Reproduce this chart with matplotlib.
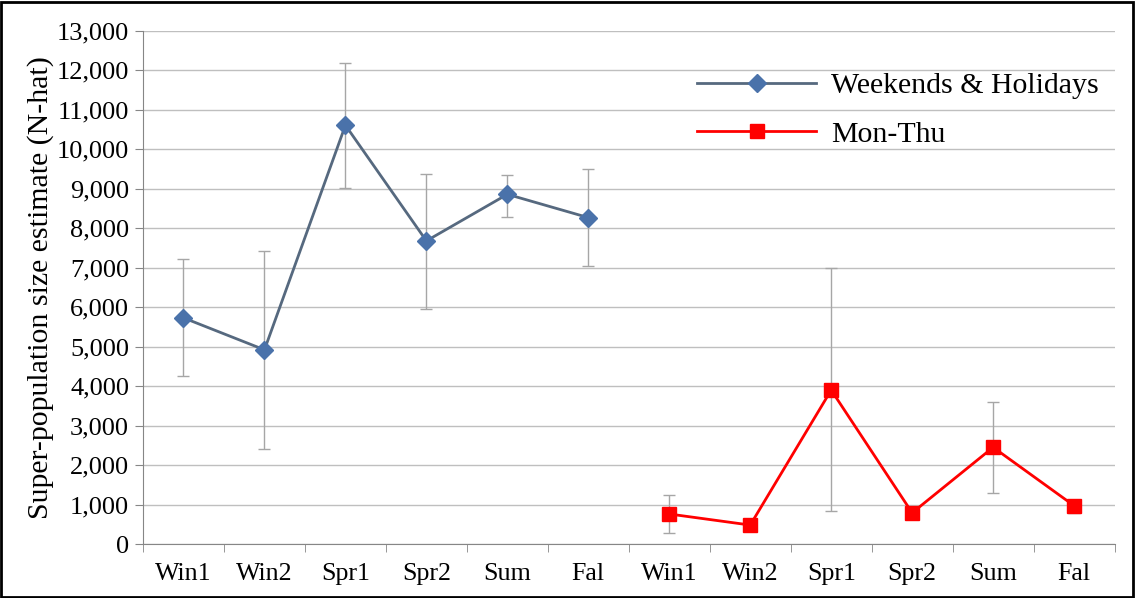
import matplotlib
matplotlib.use("Agg")
import matplotlib.pyplot as plt
import numpy as np
from matplotlib.patches import Rectangle

plt.rcParams['font.family'] = ['Liberation Serif', 'DejaVu Serif']

categories = ["Win1", "Win2", "Spr1", "Spr2", "Sum", "Fal",
              "Win1", "Win2", "Spr1", "Spr2", "Sum", "Fal"]

wh_values = [5730, 4920, 10610, 7680, 8860, 8270]
wh_upper = [7230, 7430, 12180, 9380, 9350, 9510]
wh_lower = [4260, 2400, 9010, 5950, 8280, 7050]

mt_values = [760, 480, 3900, 790, 2450, 970]
mt_upper = [1240, 480, 6990, 790, 3610, 1080]
mt_lower = [270, 480, 840, 790, 1280, 780]

yticks = list(range(0, 13001, 1000))

fig = plt.figure(figsize=(11.35, 5.98), dpi=100)
ax = fig.add_axes([0.126, 0.0903, 0.856, 0.858])

x_wh = np.arange(0, 6)
x_mt = np.arange(6, 12)

err_color = "#a6a6a6"
wh_err = [np.array(wh_values) - np.array(wh_lower), np.array(wh_upper) - np.array(wh_values)]
mt_err = [np.array(mt_values) - np.array(mt_lower), np.array(mt_upper) - np.array(mt_values)]

ax.errorbar(x_wh, wh_values, yerr=wh_err, fmt='none', ecolor=err_color,
            elinewidth=1, capsize=4.5, capthick=1, zorder=3)
ax.errorbar(x_mt, mt_values, yerr=mt_err, fmt='none', ecolor=err_color,
            elinewidth=1, capsize=4.5, capthick=1, zorder=3)

ax.plot(x_wh, wh_values, color="#56697f", lw=2, marker='D', markersize=9,
        markerfacecolor="#4a72aa", markeredgecolor="#4a72aa",
        label="Weekends & Holidays", zorder=4)
ax.plot(x_mt, mt_values, color="#ff0000", lw=2, marker='s', markersize=9.5,
        markerfacecolor="#ff0000", markeredgecolor="#ff0000",
        label="Mon-Thu", zorder=4)

ax.set_xlim(-0.5, 11.5)
ax.set_ylim(0, 13000)
ax.set_yticks(yticks)
ax.set_yticklabels([f"{v:,}" for v in yticks])
ax.set_xticks(np.arange(12))
ax.set_xticklabels(categories)
ax.set_xticks(np.arange(-0.5, 12, 1), minor=True)
ax.tick_params(axis='x', which='major', length=0, labelsize=18.7, pad=14)
ax.tick_params(axis='x', which='minor', length=6, color="#868686", direction='out')
ax.tick_params(axis='y', which='major', length=6, color="#868686", labelsize=19, pad=4)

ax.grid(axis='y', color="#bfbfbf", lw=1)
ax.set_axisbelow(True)
for s in ['top', 'right']:
    ax.spines[s].set_visible(False)
for s in ['left', 'bottom']:
    ax.spines[s].set_color("#868686")

ax.set_ylabel("Super-population size estimate (N-hat)", fontsize=21.5, labelpad=2)

leg = ax.legend(loc='upper left', bbox_to_anchor=(0.570, 0.919), frameon=False,
                fontsize=21.5, handlelength=4.0, handletextpad=0.5, labelspacing=0.72,
                borderpad=0, borderaxespad=0)

fig.patches.append(Rectangle((0.001, 0.002), 0.997, 0.995, transform=fig.transFigure,
                             fill=False, edgecolor='black', lw=2))

fig.savefig("out.png", dpi=100)
